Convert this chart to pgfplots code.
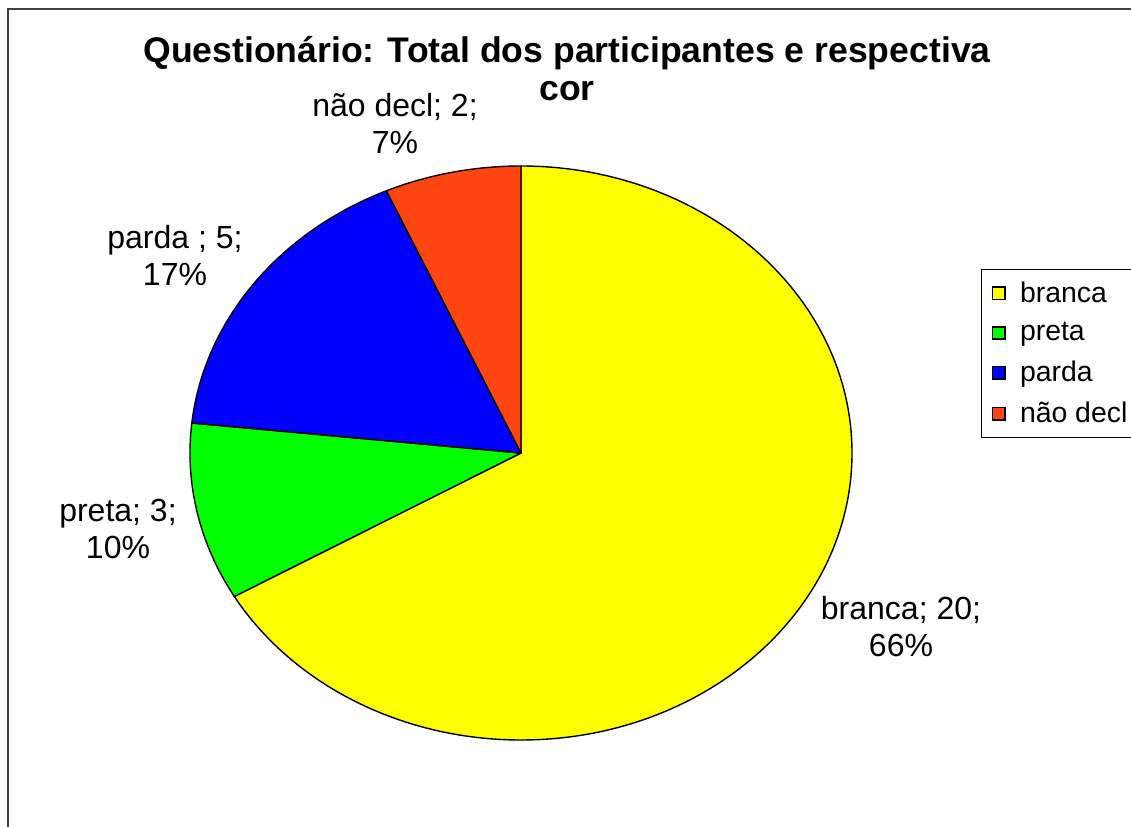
\documentclass[border=0pt]{standalone}
\usepackage{pgfplots}
\usepackage{pgfplotstable}
\pgfplotsset{compat=1.18}
\usepackage{fontspec}
\setmainfont{Liberation Sans}

\definecolor{cbranca}{HTML}{FFFF00}
\definecolor{cpreta}{HTML}{00FF00}
\definecolor{cparda}{HTML}{0000FF}
\definecolor{cnaodecl}{HTML}{FF4512}
\definecolor{frame}{HTML}{404040}

% participantes por cor
\pgfplotstableread{
cor     value
branca  20
preta   3
parda   5
naodecl 2
}\cordata

% slice: colour, start angle, end angle (centre and radii in pixels of the reference, 1px = 0.5pt)
\newcommand\pieslice[3]{%
  \filldraw[fill=#1, draw=black, line width=0.7pt, line join=round]
    (axis cs:521,373) -- ++(#2:165.5pt and 143.5pt)
    arc[start angle=#2, end angle=#3, x radius=165.5pt, y radius=143.5pt] -- cycle;}

\begin{document}
\begin{tikzpicture}
  \pgfplotstablegetelem{0}{value}\of\cordata \pgfmathsetmacro\vA{\pgfplotsretval}
  \pgfplotstablegetelem{1}{value}\of\cordata \pgfmathsetmacro\vB{\pgfplotsretval}
  \pgfplotstablegetelem{2}{value}\of\cordata \pgfmathsetmacro\vC{\pgfplotsretval}
  \pgfplotstablegetelem{3}{value}\of\cordata \pgfmathsetmacro\vD{\pgfplotsretval}
  \pgfmathsetmacro\tot{\vA+\vB+\vC+\vD}
  \pgfmathsetmacro\aA{90}
  \pgfmathsetmacro\aB{\aA-360*\vA/\tot}
  \pgfmathsetmacro\aC{\aB-360*\vB/\tot}
  \pgfmathsetmacro\aD{\aC-360*\vC/\tot}
  \pgfmathsetmacro\aE{\aD-360*\vD/\tot}

  \path[use as bounding box, clip] (0pt,0pt) rectangle (565.5pt,413pt);

  \begin{axis}[
      at={(0pt,0pt)}, anchor=south west,
      x=0.5pt, y=0.5pt,
      xmin=0, xmax=1131, ymin=0, ymax=826,
      axis lines=none, clip=false,
      legend cell align=left,
      legend image code/.code={\draw[#1, line width=0.8pt] (0pt,-3.1pt) rectangle (6.2pt,3.1pt);},
      legend style={at={(axis cs:981,557)}, anchor=north west,
        draw=black, line width=0.6pt,
        font=\fontsize{14.2}{15}\selectfont,
        inner xsep=5pt, inner ysep=4pt, row sep=4.6pt,
        /tikz/every odd column/.append style={column sep=5.2pt}},
    ]
    \draw[frame, line width=0.8pt] (axis cs:8,-20) rectangle (axis cs:1160,817);

    \pieslice{cbranca}{\aA}{\aB}
    \pieslice{cpreta}{\aB}{\aC}
    \pieslice{cparda}{\aC}{\aD}
    \pieslice{cnaodecl}{\aD}{\aE}

    \addlegendimage{fill=cbranca, draw=black}
    \addlegendentry{branca}
    \addlegendimage{fill=cpreta, draw=black}
    \addlegendentry{preta}
    \addlegendimage{fill=cparda, draw=black}
    \addlegendentry{parda}
    \addlegendimage{fill=cnaodecl, draw=black}
    \addlegendentry{não decl}

    \node[font=\bfseries\fontsize{17.8}{19}\selectfont, align=center]
      at (axis cs:567,757) {Questionário: Total dos participantes e respectiva\\cor};

    \begin{scope}[every node/.style={font=\fontsize{16}{18.5}\selectfont, align=center}]
      \node at (axis cs:395,702) {não decl; 2;\\7\%};
      \node at (axis cs:175,570) {parda ; 5;\\17\%};
      \node at (axis cs:118,297) {preta; 3;\\10\%};
      \node at (axis cs:901,199) {branca; 20;\\66\%};
    \end{scope}
  \end{axis}
\end{tikzpicture}
\end{document}
